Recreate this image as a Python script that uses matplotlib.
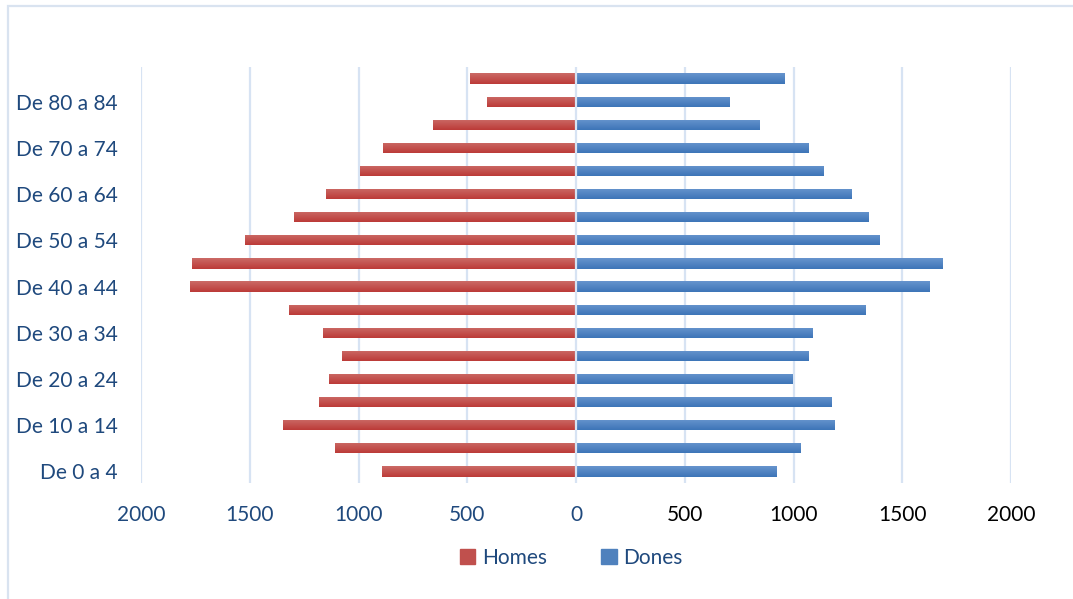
import numpy as np
import matplotlib
matplotlib.use("Agg")
import matplotlib.pyplot as plt
from matplotlib.patches import Rectangle
from matplotlib.colors import LinearSegmentedColormap

plt.rcParams['font.family'] = ['Lato', 'DejaVu Sans']

# Age groups, youngest first
groups = ["De 0 a 4", "De 5 a 9", "De 10 a 14", "De 15 a 19", "De 20 a 24",
          "De 25 a 29", "De 30 a 34", "De 35 a 39", "De 40 a 44", "De 45 a 49",
          "De 50 a 54", "De 55 a 59", "De 60 a 64", "De 65 a 69", "De 70 a 74",
          "De 75 a 79", "De 80 a 84", "85 i més"]
homes = [890, 1106, 1345, 1180, 1134, 1074, 1162, 1318, 1773, 1764,
         1520, 1295, 1148, 992, 886, 656, 408, 486]
dones = [921, 1031, 1188, 1174, 995, 1068, 1087, 1330, 1624, 1684,
         1395, 1344, 1266, 1137, 1068, 843, 705, 958]
xticks = [-2000, -1500, -1000, -500, 0, 500, 1000, 1500, 2000]

navy = "#1F497D"
grid_c = "#D7E3F3"

fig = plt.figure(figsize=(10.73, 5.99), dpi=100)
ax = fig.add_axes([141 / 1073, 1 - 483 / 599, 870 / 1073, 416 / 599])

y = np.arange(len(groups))
bh = 0.44
bars_h = ax.barh(y, [-v for v in homes], height=bh, color="#C0504D", zorder=2)
bars_d = ax.barh(y, dones, height=bh, color="#4F81BD", zorder=2)

# soft vertical shading on each bar (lighter on top)
def shade(bars, top, bottom):
    cmap = LinearSegmentedColormap.from_list("s", [bottom, top])
    grad = np.linspace(0, 1, 32).reshape(-1, 1)
    for b in bars:
        x0, y0 = b.get_x(), b.get_y()
        w, h = b.get_width(), b.get_height()
        im = ax.imshow(grad, cmap=cmap, origin="lower", aspect="auto",
                       extent=(x0, x0 + w, y0, y0 + h), zorder=2.5,
                       interpolation="bilinear")
        im.set_clip_path(b)

shade(bars_h, "#CB6A66", "#BC3B38")
shade(bars_d, "#6794CD", "#3D75B8")

ax.set_xlim(-2000, 2000)
ax.set_ylim(-0.5, len(groups) - 0.5)

for xv in xticks:
    if xv != 0:
        ax.axvline(xv, color=grid_c, lw=1.6, zorder=1)
ax.axvline(0, color=grid_c, lw=1.6, zorder=3)

ax.set_xticks(xticks)
ax.set_xticklabels([str(abs(v)) for v in xticks])
for lab, v in zip(ax.get_xticklabels(), xticks):
    lab.set_color(navy if v <= 0 else "black")
ax.set_yticks(y[::2])
ax.set_yticklabels(groups[::2], color=navy)
ax.tick_params(axis="both", length=0, labelsize=15)
ax.tick_params(axis="y", pad=17)
ax.tick_params(axis="x", pad=16)
for s in ax.spines.values():
    s.set_visible(False)

# legend
h1 = Rectangle((0, 0), 1, 1, color="#C0504D")
h2 = Rectangle((0, 0), 1, 1, color="#4F81BD")
leg = fig.legend([h1, h2], ["Homes", "Dones"], loc="center",
                 bbox_to_anchor=(571 / 1073, 1 - 558 / 599), ncol=2,
                 frameon=False, fontsize=15, handlelength=0.75, handleheight=0.75,
                 handletextpad=0.3, columnspacing=2.6, labelcolor=navy)

# chart frame
fig.patches.append(Rectangle((7.5 / 1073, -0.1), 1.2, 1 - 6.5 / 599 + 0.1,
                             transform=fig.transFigure, fill=False,
                             edgecolor="#D9E3F0", lw=1.6))

fig.savefig("out.png", dpi=100)
